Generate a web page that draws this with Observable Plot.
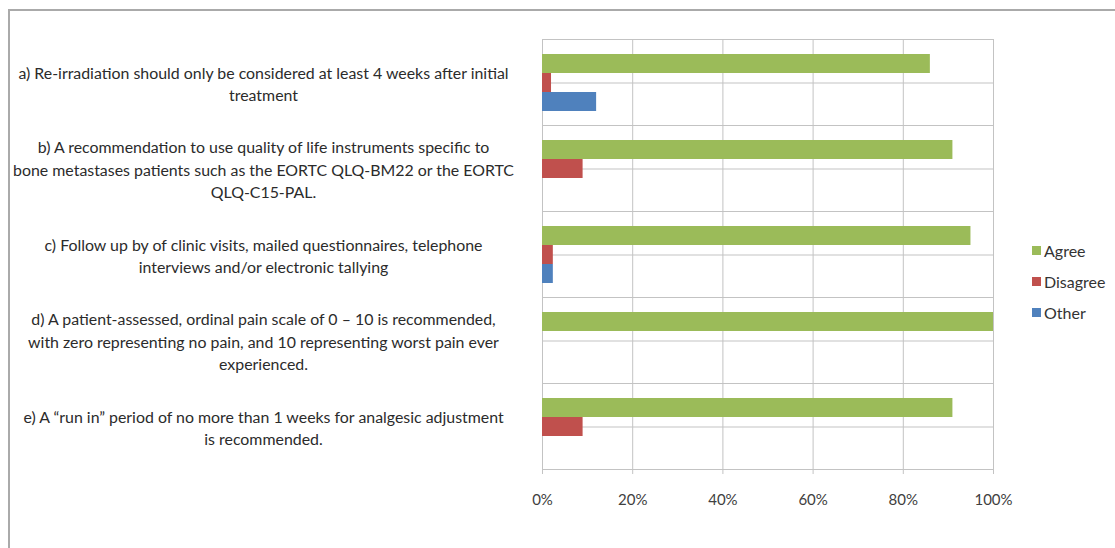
<!DOCTYPE html>
<html><head><meta charset="utf-8">
<script src="https://cdn.jsdelivr.net/npm/d3@7"></script>
<script src="https://cdn.jsdelivr.net/npm/@observablehq/plot@0.6"></script>
<style>
body{margin:0;background:#fff;}
#wrap{position:relative;width:1115px;height:548px;overflow:hidden;font-family:Lato,sans-serif;}
#wrap svg{position:absolute;left:0;top:0;}
#border{position:absolute;left:8px;top:9px;right:-10px;bottom:-10px;border-left:2px solid #aaaaaa;border-top:2px solid #aaaaaa;}
#legend{position:absolute;left:1032px;top:235px;font-size:16px;color:#333333;}
.item{display:flex;align-items:center;height:31px;}
.sw{width:9px;height:9px;margin-right:3px;}
</style></head><body>
<div id="wrap"><div id="border"></div><div id="legend"></div></div>
<script>
const statements = ["a", "b", "c", "d", "e"];
const labels = [
  "a) Re-irradiation should only be considered at least 4 weeks after initial\ntreatment",
  "b) A recommendation to use quality of life instruments specific to\nbone metastases patients such as the EORTC QLQ-BM22 or the EORTC\nQLQ-C15-PAL.",
  "c) Follow up by of clinic visits, mailed questionnaires, telephone\ninterviews and/or electronic tallying",
  "d) A patient-assessed, ordinal pain scale of 0 \u2013 10 is recommended,\nwith zero representing no pain, and 10 representing worst pain ever\nexperienced.",
  "e) A \u201crun in\u201d period of no more than 1 weeks for analgesic adjustment\nis recommended."
];
const series = ["Agree", "Disagree", "Other"];
const agree = [86, 91, 95, 100, 91];
const disagree = [2, 9, 2.4, 0, 9];
const other = [12, 0, 2.4, 0, 0];
const colors = ["#9BBB59", "#C0504D", "#4F81BD"];
const xTicks = [0, 0.2, 0.4, 0.6, 0.8, 1];

const values = [agree, disagree, other];
const rows = statements.flatMap((s, i) => series.map((k, j) => ({statement: s, series: k, value: values[j][i] / 100})));
const labelRows = statements.map((s, i) => ({statement: s, label: labels[i]}));
const grid = "#c3c3c3";

const chart = Plot.plot({
  width: 1115, height: 548,
  marginLeft: 542, marginRight: 122, marginTop: 37, marginBottom: 77,
  style: {fontFamily: "Lato, sans-serif", fontSize: "15px", color: "#404040", background: "transparent"},
  x: {domain: [0, 1], label: null},
  y: {domain: series, axis: null, paddingInner: 0, paddingOuter: 0.75},
  fy: {domain: statements, axis: null, padding: 0},
  color: {domain: series, range: colors},
  marks: [
    Plot.frame({stroke: grid}),
    Plot.ruleY(["Disagree"], {stroke: grid}),
    Plot.ruleX(xTicks, {stroke: grid}),
    Plot.barX(rows, {x: "value", y: "series", fy: "statement", fill: "series"}),
    Plot.text(labelRows, {fy: "statement", text: "label", frameAnchor: "left", dx: -279, textAnchor: "middle", lineHeight: 1.4, fill: "#2b2b2b", fontSize: 15.9}),
    Plot.axisX({ticks: xTicks, tickFormat: d => Math.round(d * 100) + "%", tickSize: 5, tickPadding: 20, stroke: grid, fill: "#404040", fontSize: 15, label: null})
  ]
});
document.getElementById("wrap").appendChild(chart);

const legend = document.getElementById("legend");
series.forEach((s, i) => {
  const it = document.createElement("div");
  it.className = "item";
  it.innerHTML = `<span class="sw" style="background:${colors[i]}"></span><span>${s}</span>`;
  legend.appendChild(it);
});
</script>
</body></html>
